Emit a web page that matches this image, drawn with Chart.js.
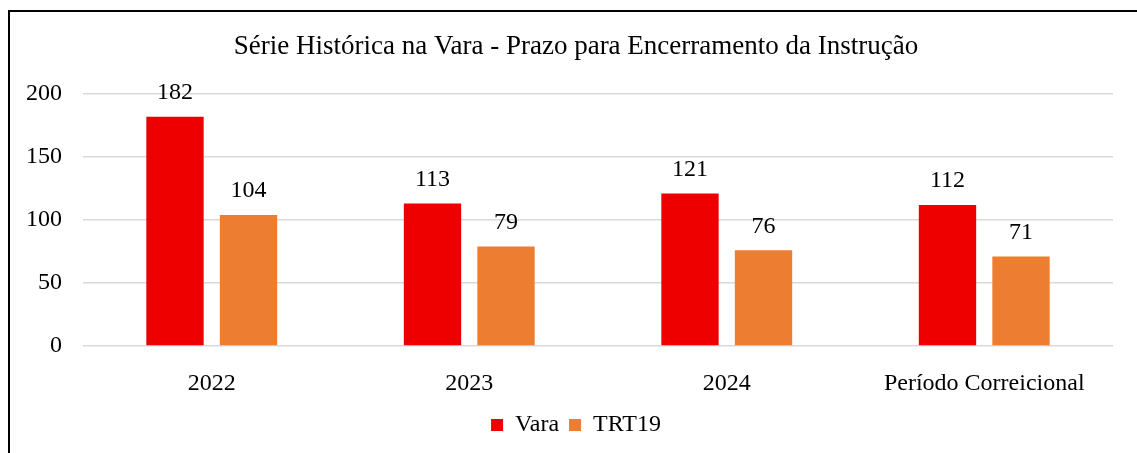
<!DOCTYPE html>
<html lang="pt-BR">
<head>
    <meta charset="UTF-8">
    <script src="https://cdn.jsdelivr.net/npm/chart.js@4.4.1/dist/chart.umd.min.js"></script>
    <title>Prazo para Encerramento da Instrução</title>
    <style>
        body { margin: 0; background: #fff; overflow: hidden; }
        .wrap { position: relative; width: 1137px; height: 453px; }
        .frame { position: absolute; left: 8px; top: 10px; width: 1200px; height: 500px;
                 border-left: 2px solid #000; border-top: 2px solid #000; }
        canvas { position: absolute; left: 0; top: 0; }
    </style>
</head>
<body>
    <div class="wrap">
        <div class="frame"></div>
        <canvas id="chart1" width="1137" height="453"></canvas>
    </div>

    <script>
        var periodos = ['2022', '2023', '2024', 'Período Correicional'];
        var vara = [182, 113, 121, 112];
        var trt19 = [104, 79, 76, 71];
        var yTicks = [0, 50, 100, 150, 200];

        var fonte = "'Liberation Serif', 'Times New Roman', serif";

        // rótulos de valor acima das barras
        var rotulos = {
            id: 'rotulos',
            afterDatasetsDraw(chart) {
                var ctx = chart.ctx;
                ctx.save();
                ctx.font = '24px ' + fonte;
                ctx.fillStyle = '#000';
                ctx.textAlign = 'center';
                ctx.textBaseline = 'middle';
                chart.data.datasets.forEach((ds, i) => {
                    chart.getDatasetMeta(i).data.forEach((bar, j) => {
                        ctx.fillText(ds.data[j], bar.x, bar.y - 24);
                    });
                });
                ctx.restore();
            }
        };

        // título e legenda um pouco à direita, como no original
        var deslocar = {
            id: 'deslocar',
            afterLayout(chart) {
                [chart.titleBlock, chart.legend].forEach(b => {
                    if (b) { b.left += 12; b.right += 12; }
                });
            }
        };

        var ctx = document.getElementById('chart1').getContext('2d');
        var myChart = new Chart(ctx, {
            type: 'bar',
            data: {
                labels: periodos,
                datasets: [{
                    label: 'Vara',
                    data: vara,
                    backgroundColor: '#EE0000'
                }, {
                    label: 'TRT19',
                    data: trt19,
                    backgroundColor: '#ED7D31'
                }]
            },
            options: {
                responsive: false,
                animation: false,
                layout: { padding: { left: 15, right: 24, top: 0, bottom: 6 } },
                datasets: {
                    bar: { categoryPercentage: 0.571, barPercentage: 0.78 }
                },
                plugins: {
                    title: {
                        display: true,
                        text: 'Série Histórica na Vara - Prazo para Encerramento da Instrução',
                        color: '#000',
                        font: { family: fonte, size: 27, weight: 'normal' },
                        padding: { top: 31, bottom: 30.6 }
                    },
                    legend: {
                        position: 'bottom',
                        labels: {
                            color: '#000',
                            font: { family: fonte, size: 24 },
                            boxWidth: 12,
                            boxHeight: 12,
                            padding: 10
                        }
                    },
                    tooltip: { enabled: false }
                },
                scales: {
                    x: {
                        grid: { display: false },
                        border: { display: false },
                        ticks: { color: '#000', font: { family: fonte, size: 24 }, padding: 15, maxRotation: 0 },
                        afterFit: s => { s.height = 57; }
                    },
                    y: {
                        min: 0,
                        max: 200,
                        grid: { color: '#D9D9D9', lineWidth: 1.5, drawTicks: false },
                        border: { display: false },
                        afterBuildTicks: s => { s.ticks = yTicks.map(v => ({ value: v })); },
                        ticks: { color: '#000', font: { family: fonte, size: 24 }, padding: 21 },
                        afterFit: s => { s.width = 68; }
                    }
                }
            },
            plugins: [rotulos, deslocar]
        });
    </script>
</body>
</html>
